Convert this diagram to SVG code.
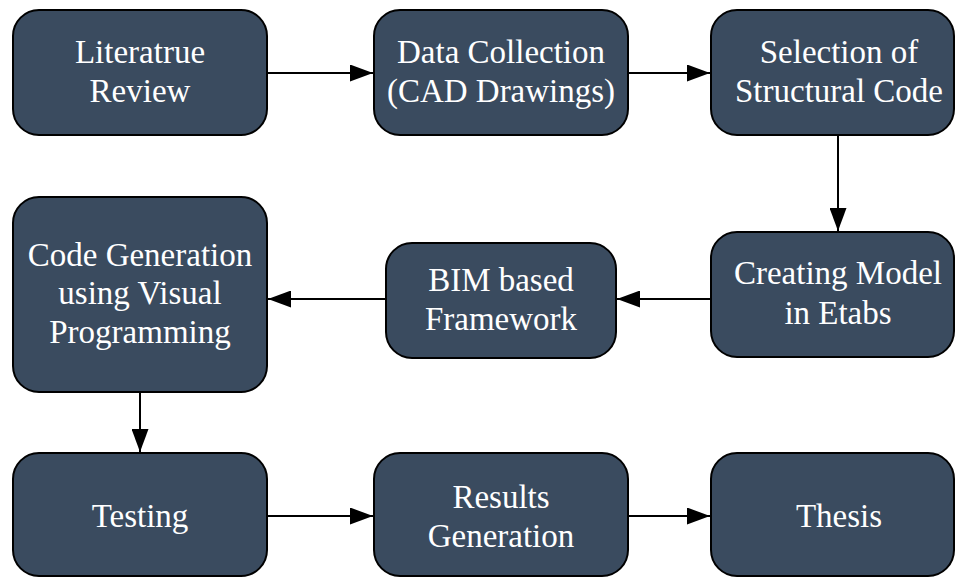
<svg xmlns="http://www.w3.org/2000/svg" width="956" height="577" viewBox="0 0 956 577">
  <style>
    .box { fill: #3a4b5f; stroke: #000; stroke-width: 2; }
    .lbl { font-family: 'Liberation Serif', 'Times New Roman', serif; font-size: 33px; fill: #ffffff; text-anchor: middle; }
    .edge { stroke: #000; stroke-width: 2; fill: none; marker-end: url(#arrow); }
  </style>
  <defs>
    <marker id="arrow" markerUnits="userSpaceOnUse" markerWidth="24" markerHeight="17" refX="23" refY="8.5" orient="auto">
      <path d="M0,0 L23,8.5 L0,17 Z" fill="#000"/>
    </marker>
  </defs>

  <!-- process flow arrows -->
  <g id="connectors">
    <line class="edge" x1="268" y1="73" x2="373" y2="73"/>
    <line class="edge" x1="629" y1="73" x2="710" y2="73"/>
    <line class="edge" x1="838" y1="136" x2="838" y2="231"/>
    <line class="edge" x1="711" y1="299" x2="617" y2="299"/>
    <line class="edge" x1="386" y1="299" x2="268" y2="299"/>
    <line class="edge" x1="140" y1="392" x2="140" y2="452"/>
    <line class="edge" x1="268" y1="516" x2="373" y2="516"/>
    <line class="edge" x1="629" y1="516" x2="710" y2="516"/>
  </g>

  <g id="literature-review">
    <rect class="box" x="13" y="10" width="254" height="125" rx="26"/>
    <text class="lbl" x="140" y="63">Literatrue</text>
    <text class="lbl" x="140" y="102">Review</text>
  </g>
  <g id="data-collection">
    <rect class="box" x="374" y="10" width="254" height="125" rx="26"/>
    <text class="lbl" x="501" y="63">Data Collection</text>
    <text class="lbl" x="501" y="102">(CAD Drawings)</text>
  </g>
  <g id="structural-code">
    <rect class="box" x="711" y="10" width="243" height="125" rx="26"/>
    <text class="lbl" x="839" y="63">Selection of</text>
    <text class="lbl" x="839" y="102">Structural Code</text>
  </g>
  <g id="etabs-model">
    <rect class="box" x="711" y="232" width="243" height="125" rx="26"/>
    <text class="lbl" x="838" y="284">Creating Model</text>
    <text class="lbl" x="838" y="324">in Etabs</text>
  </g>
  <g id="bim-framework">
    <rect class="box" x="386" y="243" width="230" height="115" rx="26"/>
    <text class="lbl" x="501" y="291">BIM based</text>
    <text class="lbl" x="501" y="330">Framework</text>
  </g>
  <g id="code-generation">
    <rect class="box" x="13" y="197" width="254" height="195" rx="26"/>
    <text class="lbl" x="140" y="266">Code Generation</text>
    <text class="lbl" x="140" y="304">using Visual</text>
    <text class="lbl" x="140" y="343">Programming</text>
  </g>
  <g id="testing">
    <rect class="box" x="13" y="453" width="254" height="123" rx="26"/>
    <text class="lbl" x="140" y="527">Testing</text>
  </g>
  <g id="results-generation">
    <rect class="box" x="374" y="453" width="254" height="123" rx="26"/>
    <text class="lbl" x="501" y="508">Results</text>
    <text class="lbl" x="501" y="547">Generation</text>
  </g>
  <g id="thesis">
    <rect class="box" x="711" y="453" width="243" height="123" rx="26"/>
    <text class="lbl" x="839" y="527">Thesis</text>
  </g>
</svg>
